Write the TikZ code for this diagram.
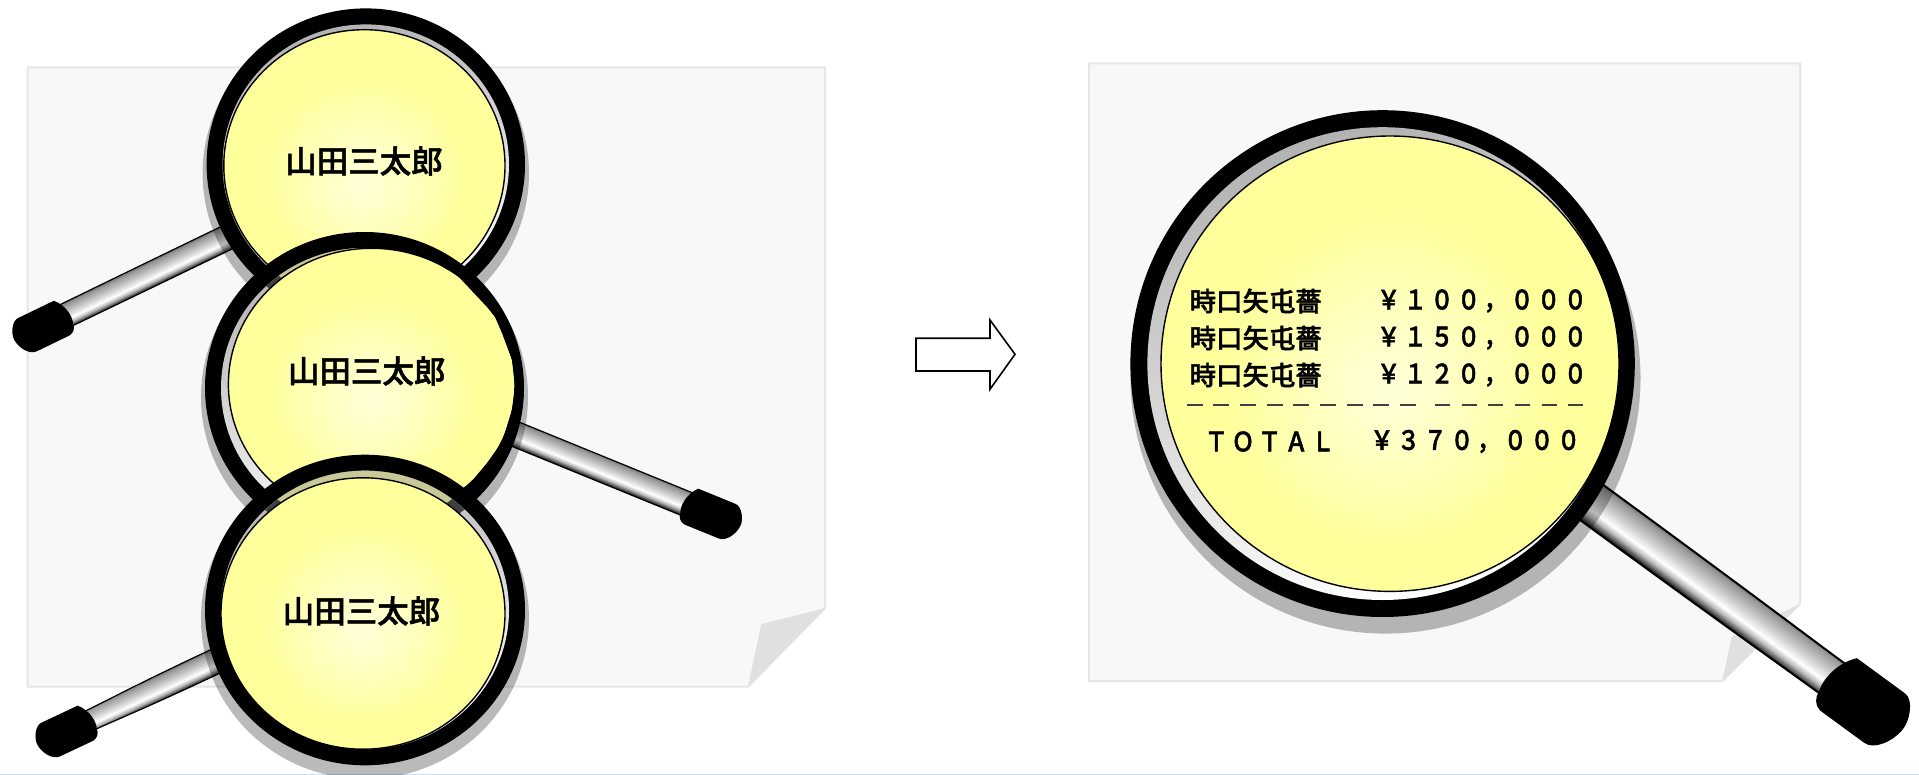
\documentclass[tikz,border=0pt]{standalone}
\usepackage{fontspec}
\newfontfamily\jpfont[FakeBold=1.6]{Noto Sans CJK JP Medium}
\newfontfamily\jpnumfont[FakeStretch=0.86,LetterSpace=14,FakeBold=1.8]{Noto Sans CJK JP Medium}
\definecolor{paperfill}{HTML}{F8F8F8}
\definecolor{paperedge}{HTML}{E6E6E6}
\definecolor{foldfill}{HTML}{E0E0E0}
\definecolor{seenyellow}{HTML}{C8C898}
\definecolor{seenring}{HTML}{404040}
\definecolor{bottomline}{HTML}{CFE0F5}
\definecolor{hsA}{HTML}{000000}
\definecolor{hsB}{HTML}{555555}
\definecolor{hsC}{HTML}{BBBBBB}
\definecolor{hsD}{HTML}{FFFFFF}
\definecolor{hsE}{HTML}{CCCCCC}
\definecolor{hsF}{HTML}{999999}
\definecolor{hsG}{HTML}{777777}
\definecolor{ly0}{HTML}{FFFFD8}
\definecolor{ly1}{HTML}{FFFFC4}
\definecolor{ly2}{HTML}{FFFF9C}
\pgfdeclareverticalshading{handleshade}{100bp}{color(0bp)=(hsA); color(25bp)=(hsA); color(29bp)=(hsB); color(35bp)=(hsC); color(42bp)=(hsD); color(55bp)=(hsE); color(70bp)=(hsF); color(75bp)=(hsG); color(100bp)=(hsG)}
\pgfdeclareradialshading{lensshade}{\pgfpoint{0bp}{-3bp}}{color(0bp)=(ly0); color(7bp)=(ly1); color(18bp)=(ly2); color(50bp)=(ly2)}
\tikzset{
  sheet/.style={fill=paperfill,draw=paperedge,line width=2pt},
  foldcorner/.style={fill=foldfill},
  lensshadow/.style={fill=black,fill opacity=.27},
  lenslabel/.style={font=\jpfont\fontsize{31.5}{31.5}\selectfont,inner sep=0pt,text=black},
  rowlabel/.style={font=\jpfont\fontsize{26.4}{26.4}\selectfont,inner sep=0pt,anchor=west,text=black},
  numlabel/.style={font=\jpnumfont\fontsize{26.67}{26.67}\selectfont,inner sep=0pt,anchor=west,text=black},
  blockarrow/.style={fill=white,draw=black,line width=1.6pt,line join=miter},
  dashbit/.style={draw=black!75,line width=1.5pt},
}
% handle: x, y, rotation, xscale, yscale, length, far half-width, cap stretch
\newcommand{\handle}[8]{%
  \begin{scope}[transform canvas={shift={(#1,#2)},rotate=#3,xscale=#4,yscale=#5}]
    \shadedraw[shading=handleshade,draw=black,line width=2pt]
      (-30,-21) -- (0,-21) .. controls ({#6*.6},-21) and ({#6*.85},{-#7}) .. (#6,{-#7})
      -- ({#6+6},{-#7}) -- ({#6+6},#7) -- (#6,#7)
      .. controls ({#6*.85},#7) and ({#6*.6},21) .. (0,21) -- (-30,21) -- cycle;
    \fill[black,shift={(#6,0)},xscale=#8]
      (6,-31) -- (66,-31) .. controls (76,-31) and (86,-12) .. (85,0)
      .. controls (84,15) and (74,33) .. (62,33) -- (7,33)
      .. controls (0,32) and (-5,25) .. (-5,18)
      .. controls (-9,8) and (-8,-15) .. (6,-31) -- cycle;
  \end{scope}}
% lens: ring cx cy rx ry, thickness, glass cx cy rx ry, things seen through the rim
\newcommand{\lens}[9]{%
  \fill[black] (#1,#2) ellipse [x radius=#3,y radius=#4];
  \begin{scope}
    \clip (#1,#2) ellipse [x radius={#3-#5},y radius={#4-#5}];
    \shade[top color=black!30,bottom color=white,middle color=black!15,shading angle=15]
      (#1,#2) ellipse [x radius={#3-#5+2},y radius={#4-#5+2}];
    \lensseen
  \end{scope}
  \shadedraw[shading=lensshade,draw=black,line width=1.4pt]
    (#6,#7) ellipse [x radius=#8,y radius=#9];}
\begin{document}
\begin{tikzpicture}[x=1pt,y=-1pt]
\useasboundingbox (0,0) rectangle (1919,775);
\clip (0,0) rectangle (1919,775);
\fill[white] (0,0) rectangle (1919,775);
\fill[bottomline] (0,773.5) rectangle (1919,775);
% sheets
\path[sheet] (27.5,67.5) -- (825,67.5) -- (825,608.3) -- (748,686.7) -- (27.5,686.7) -- cycle;
\path[foldcorner] (825,608.3) -- (761.3,624) -- (748,686.7) -- cycle;
\path[sheet] (1089,63.5) -- (1800,63.5) -- (1800,604) -- (1722.3,681) -- (1089,681) -- cycle;
\path[foldcorner] (1800,604) -- (1731.7,636.7) -- (1722.3,681) -- cycle;
% lens one
\handle{224}{239}{25.8}{-.595}{.595}{296}{20.6}{1.12}
\path[lensshadow] (365.8,173.4) ellipse [x radius=163.2,y radius=160.5];
\let\lensseen\relax
\lens{365.8}{164.4}{159.2}{156}{16}{364.4}{165.7}{140.6}{136}
\fill[black] (224,190) -- (241,247) -- (258,272) -- (252,268) -- (228,232) -- (215,190) -- cycle;
\node[lenslabel] (nameone) at (364,161) {山田三太郎};
% lens two
\handle{517.5}{435}{-22.2}{.6}{.6}{306}{21}{1.12}
\path[lensshadow] (364.5,397) ellipse [x radius=163.5,y radius=160.5];
\def\lensseen{%
  \fill[seenring] (365.8,164.4) ellipse [x radius=159.2,y radius=156];
  \fill[seenyellow] (365.8,164.4) ellipse [x radius=143.2,y radius=140];}
\lens{364.5}{388}{159.5}{156}{16}{371.7}{384.3}{143.3}{136}
\fill[black] (443,267) -- (457,275) -- (487,307) -- (495,317) -- (502,333) -- (512,360) -- (515,387)
  -- (512,410) -- (502,442) -- (487,463) -- (467,487) -- (474,492) -- (500,462) -- (518,420)
  -- (520,385) -- (515,340) -- (490,295) -- (455,262) -- cycle;
\node[lenslabel] (nametwo) at (366.7,371) {山田三太郎};
% lens three
\handle{213}{662.5}{25.2}{-.6}{.6}{228}{17.5}{1.12}
\path[lensshadow] (365,619) ellipse [x radius=164,y radius=160];
\def\lensseen{%
  \fill[seenring] (364.5,388) ellipse [x radius=159.5,y radius=156];
  \fill[seenyellow] (364.5,388) ellipse [x radius=143.5,y radius=140];}
\lens{365}{610}{160}{155.3}{16}{363}{613.5}{142}{135.7}
\fill[black] (223,643) -- (233,672) -- (240,685) -- (255,707) -- (277,728) -- (310,743) -- (327,748)
  -- (353,749) -- (353,760) -- (300,750) -- (252,717) -- (225,680) -- (212,645) -- cycle;
\node[lenslabel] (namethree) at (361.5,611) {山田三太郎};
% arrow
\path[blockarrow] (916,338.3) -- (990,338.3) -- (990,320) -- (1015,354.3) -- (990,389.3) -- (990,371) -- (916,371) -- cycle;
% big lens
\handle{1591.7}{502.5}{-36.2}{1}{1}{300}{19.5}{1}
\path[lensshadow] (1385.5,378) ellipse [x radius=255,y radius=255.6];
\let\lensseen\relax
\lens{1382.6}{363.6}{252.2}{253.4}{17}{1390}{363.7}{229}{227.7}
% rows
\node[rowlabel] (rowa) at (1189.5,301) {時口矢屯薔};
\node[rowlabel] (rowb) at (1189.5,338) {時口矢屯薔};
\node[rowlabel] (rowc) at (1189.5,375) {時口矢屯薔};
\node[numlabel] (numa) at (1377,301) {￥１００，０００};
\node[numlabel] (numb) at (1377,338) {￥１５０，０００};
\node[numlabel] (numc) at (1377,375) {￥１２０，０００};
\foreach \k in {0,...,8} \draw[dashbit] ({1186.7+26.67*\k},405) -- ({1202.7+26.67*\k},405);
\foreach \k in {0,...,5} \draw[dashbit] ({1435+26.67*\k},405) -- ({1450+26.67*\k},405);
\node[numlabel] (totallabel) at (1204.7,441.5) {ＴＯＴＡＬ};
\node[numlabel] (totalnum) at (1370.3,441.5) {￥３７０，０００};
\end{tikzpicture}
\end{document}
